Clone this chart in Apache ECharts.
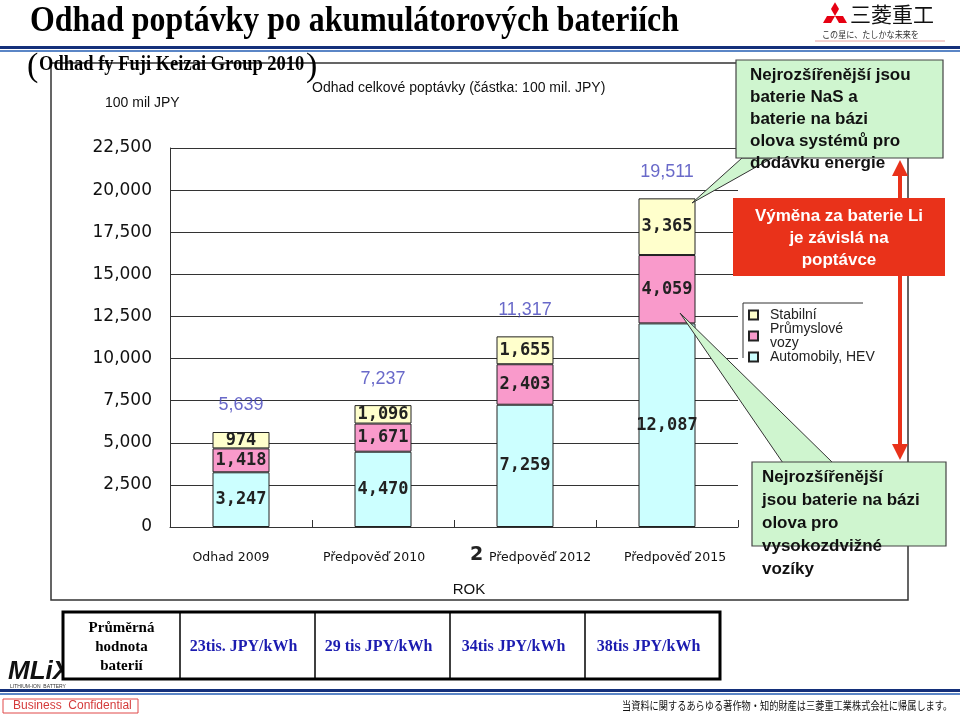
<!DOCTYPE html>
<html>
<head>
<meta charset="utf-8">
<script src="https://cdn.jsdelivr.net/npm/echarts@6/dist/echarts.min.js"></script>
<style>
html,body{margin:0;padding:0;background:#fff;}
#chart{width:960px;height:715px;}
</style>
</head>
<body>
<div id="chart"></div>
<script>
// ---- data ----
const categories = ['Odhad 2009', 'Předpověď 2010', 'Předpověď 2012', 'Předpověď 2015'];
const automobily = [3247, 4470, 7259, 12087];
const prumyslove = [1418, 1671, 2403, 4059];
const stabilni = [974, 1096, 1655, 3365];
const totals = [5639, 7237, 11317, 19511];
const seriesNames = ['Stabilní', 'Průmyslové vozy', 'Automobily, HEV'];
const yMin = 0, yMax = 22500, yStep = 2500;
const priceHeader = 'Průměrná\nhodnota\nbaterií';
const batteryPrices = ['23tis. JPY/kWh', '29 tis JPY/kWh', '34tis JPY/kWh', '38tis JPY/kWh'];

const fmt = v => Number(v).toLocaleString('en-US');
const chart = echarts.init(document.getElementById('chart'), null, {renderer: 'canvas'});

const segLabel = {
  show: true, position: 'inside', formatter: p => fmt(p.value),
  fontFamily: 'DejaVu Sans Mono', fontWeight: 'bold', fontSize: 17, color: '#222'
};
const barBase = {type: 'bar', stack: 'total', barWidth: 57, label: segLabel};

// table graphics
const tbl = {x0: 63, y0: 612, y1: 679, cols: [63, 180, 315, 450, 585, 720]};
const tableEls = [];
tableEls.push({type: 'rect', z: 50, shape: {x: tbl.x0, y: tbl.y0, width: tbl.cols[5] - tbl.x0, height: tbl.y1 - tbl.y0},
  style: {fill: '#fff', stroke: '#000', lineWidth: 3}});
for (let i = 1; i < 5; i++) {
  tableEls.push({type: 'line', z: 51, shape: {x1: tbl.cols[i], y1: tbl.y0, x2: tbl.cols[i], y2: tbl.y1},
    style: {stroke: '#000', lineWidth: 1.5}});
}
tableEls.push({type: 'text', z: 52, x: (tbl.cols[0] + tbl.cols[1]) / 2, y: 647,
  style: {text: priceHeader, align: 'center', verticalAlign: 'middle', lineHeight: 19,
    fontFamily: 'Liberation Serif', fontWeight: 'bold', fontSize: 15, fill: '#000'}});
batteryPrices.forEach((t, i) => {
  tableEls.push({type: 'text', z: 52, x: (tbl.cols[i + 1] + tbl.cols[i + 2]) / 2 - 4, y: 647,
    style: {text: t, align: 'center', verticalAlign: 'middle',
      fontFamily: 'Liberation Serif', fontWeight: 'bold', fontSize: 16, fill: '#1c1cb0'}});
});

// Mitsubishi-like mark
const cx = 835, cy = 16, s = 8, L = 13.86;
const diamonds = [
  [[cx, cy], [cx + 4, cy - 6.93], [cx, cy - L], [cx - 4, cy - 6.93]],
  [[cx, cy], [cx - s, cy], [cx - 12, cy + 6.93], [cx - 4, cy + 6.93]],
  [[cx, cy], [cx + s, cy], [cx + 12, cy + 6.93], [cx + 4, cy + 6.93]]
].map(pts => ({type: 'polygon', shape: {points: pts}, style: {fill: '#e60012'}}));

const green = '#cff5cf';
const red = '#e9321a';

const option = {
  backgroundColor: '#fff',
  animation: false,
  title: {
    text: 'Odhad celkové poptávky (částka: 100 mil. JPY)',
    left: 312, top: 81, padding: 0,
    textStyle: {fontFamily: 'Liberation Sans', fontSize: 14, fontWeight: 'normal', color: '#111'}
  },
  legend: {
    data: ['Stabilní', 'Průmyslové vozy', 'Automobily, HEV'],
    orient: 'vertical', left: 748, top: 308, padding: 0, itemGap: 0,
    itemWidth: 9, itemHeight: 9, icon: 'rect', selectedMode: false,
    formatter: n => n === 'Průmyslové vozy' ? 'Průmyslové\nvozy' : n,
    textStyle: {fontFamily: 'Liberation Sans', fontSize: 14, lineHeight: 14, color: '#222', padding: [0, 0, 0, 7]}
  },
  grid: {left: 170, top: 148, width: 568, height: 379, containLabel: false},
  xAxis: {
    type: 'category', data: categories.map((c, i) => ({
      value: c,
      textStyle: {padding: [[0, 20, 0, 0], [0, 18, 0, 0], [0, 0, 0, 30], [0, 0, 0, 16]][i]}
    })),
    axisLine: {lineStyle: {color: '#333', width: 1}},
    axisTick: {show: true, inside: true, length: 7, lineStyle: {color: '#333'}},
    axisLabel: {margin: 24, fontFamily: 'DejaVu Sans', fontSize: 12.5, color: '#111', interval: 0},
    name: 'ROK', nameLocation: 'middle', nameGap: 55,
    nameTextStyle: {fontFamily: 'Liberation Sans', fontSize: 15, color: '#111', padding: [0, 0, 0, 30]}
  },
  yAxis: {
    type: 'value', min: yMin, max: yMax, interval: yStep,
    axisLine: {show: true, lineStyle: {color: '#333', width: 1}},
    axisTick: {show: false},
    splitLine: {lineStyle: {color: '#333', width: 1}},
    axisLabel: {formatter: v => fmt(v), margin: 18, fontFamily: 'DejaVu Sans', fontSize: 17, color: '#111'}
  },
  series: [
    Object.assign({}, barBase, {name: seriesNames[2], data: automobily,
      itemStyle: {color: '#ccffff', borderColor: '#222', borderWidth: 1}}),
    Object.assign({}, barBase, {name: seriesNames[1], data: prumyslove,
      itemStyle: {color: '#f99acb', borderColor: '#222', borderWidth: 1}}),
    Object.assign({}, barBase, {name: seriesNames[0], data: stabilni,
      itemStyle: {color: '#ffffcc', borderColor: '#222', borderWidth: 1}}),
    {
      name: 'Celkem', type: 'scatter', data: totals, symbol: 'rect', symbolSize: 1, silent: true,
      itemStyle: {color: 'rgba(0,0,0,0)'}, z: 5,
      label: {show: true, position: 'top', distance: 17, formatter: p => fmt(p.value),
        fontFamily: 'Liberation Sans', fontSize: 18, color: '#4444bb'}
    }
  ],
  graphic: [].concat([
    // top banner lines
    {type: 'rect', shape: {x: 0, y: 46, width: 960, height: 3}, style: {fill: '#14307a'}},
    {type: 'rect', shape: {x: 0, y: 50, width: 960, height: 2}, style: {fill: '#5b86c6'}},
    // bottom banner lines
    {type: 'rect', shape: {x: 0, y: 689, width: 960, height: 3}, style: {fill: '#14307a'}},
    {type: 'rect', shape: {x: 0, y: 693, width: 960, height: 2}, style: {fill: '#5b86c6'}},
    // outer frame
    {type: 'rect', z: -10, shape: {x: 51, y: 63, width: 857, height: 537}, style: {fill: null, stroke: '#333', lineWidth: 1.5}},
    // heading
    {type: 'text', x: 30, y: 4, scaleX: 0.91,
      style: {text: 'Odhad poptávky po akumulátorových bateriích', fontFamily: 'Liberation Serif', fontWeight: 'bold', fontSize: 35, fill: '#000', verticalAlign: 'top'}},
    {type: 'text', x: 27, y: 67, style: {text: '(', fontFamily: 'Liberation Serif', fontSize: 34, fill: '#000', verticalAlign: 'middle'}},
    {type: 'text', x: 39, y: 65, scaleX: 0.925,
      style: {text: 'Odhad fy Fuji Keizai Group 2010', fontFamily: 'Liberation Serif', fontWeight: 'bold', fontSize: 20, fill: '#000', verticalAlign: 'middle'}},
    {type: 'text', x: 306, y: 67, style: {text: ')', fontFamily: 'Liberation Serif', fontSize: 34, fill: '#000', verticalAlign: 'middle'}},
    // y unit
    {type: 'text', x: 105, y: 103, style: {text: '100 mil JPY', fontFamily: 'Liberation Sans', fontSize: 14, fill: '#111', verticalAlign: 'middle'}},
    // residual label fragment
    {type: 'text', x: 470, y: 555, style: {text: '2', fontFamily: 'DejaVu Sans', fontWeight: 'bold', fontSize: 19, fill: '#222', verticalAlign: 'middle'}},
    // legend frame lines
    {type: 'line', shape: {x1: 743, y1: 303, x2: 863, y2: 303}, style: {stroke: '#333', lineWidth: 1}},
    {type: 'line', shape: {x1: 743, y1: 303, x2: 743, y2: 358}, style: {stroke: '#333', lineWidth: 1}},
    // red arrow
    {type: 'rect', z: 60, shape: {x: 898, y: 172, width: 4, height: 276}, style: {fill: red}},
    {type: 'polygon', z: 60, shape: {points: [[900, 160], [892, 176], [908, 176]]}, style: {fill: red}},
    {type: 'polygon', z: 60, shape: {points: [[900, 460], [892, 444], [908, 444]]}, style: {fill: red}},
    // top green callout
    {type: 'polygon', z: 70, shape: {points: [[692, 203], [742, 158], [772, 158]]}, style: {fill: green, stroke: '#333', lineWidth: 1}},
    {type: 'rect', z: 71, shape: {x: 736, y: 60, width: 207, height: 98}, style: {fill: green, stroke: '#444', lineWidth: 1.2}},
    {type: 'text', z: 72, x: 750, y: 64,
      style: {text: 'Nejrozšířenější jsou\nbaterie NaS a\nbaterie na bázi\nolova systémů pro\ndodávku energie', lineHeight: 22,
        fontFamily: 'Liberation Sans', fontWeight: 'bold', fontSize: 17, fill: '#111', verticalAlign: 'top'}},
    // red callout
    {type: 'rect', z: 73, shape: {x: 733, y: 198, width: 212, height: 78}, style: {fill: red}},
    {type: 'text', z: 74, x: 839, y: 205,
      style: {text: 'Výměna za baterie Li\nje závislá na\npoptávce', lineHeight: 22, align: 'center',
        fontFamily: 'Liberation Sans', fontWeight: 'bold', fontSize: 17, fill: '#fff', verticalAlign: 'top'}},
    // bottom green callout
    {type: 'polygon', z: 70, shape: {points: [[680, 313], [783, 463], [833, 463]]}, style: {fill: green, stroke: '#333', lineWidth: 1}},
    {type: 'rect', z: 71, shape: {x: 752, y: 462, width: 194, height: 84}, style: {fill: green, stroke: '#444', lineWidth: 1.2}},
    {type: 'text', z: 72, x: 762, y: 466,
      style: {text: 'Nejrozšířenější\njsou baterie na bázi\nolova pro\nvysokozdvižné\nvozíky', lineHeight: 23,
        fontFamily: 'Liberation Sans', fontWeight: 'bold', fontSize: 17, fill: '#111', verticalAlign: 'top'}},
    // logo top-right
    {type: 'text', x: 850, y: 14, style: {text: '三菱重工', fontFamily: 'Noto Sans CJK JP', fontSize: 21, fill: '#111', verticalAlign: 'middle'}},
    {type: 'text', x: 822, y: 35, scaleX: 0.9, style: {text: 'この星に、たしかな未来を', fontFamily: 'Noto Sans CJK JP', fontSize: 9, fill: '#333', verticalAlign: 'middle'}},
    {type: 'line', shape: {x1: 815, y1: 41, x2: 945, y2: 41}, style: {stroke: '#e8a0a0', lineWidth: 1}},
    // MLiX logo
    {type: 'text', x: 8, y: 672, style: {text: 'MLiX', fontFamily: 'Liberation Sans', fontWeight: 'bold', fontStyle: 'italic', fontSize: 26, fill: '#111', verticalAlign: 'middle'}},
    {type: 'text', x: 10, y: 687, style: {text: 'LITHIUM-ION  BATTERY', fontFamily: 'Liberation Sans', fontSize: 5, fill: '#333', verticalAlign: 'middle'}},
    // footer
    {type: 'rect', shape: {x: 3, y: 699, width: 135, height: 14}, style: {fill: '#fff', stroke: '#e04848', lineWidth: 1}},
    {type: 'text', x: 13, y: 706, style: {text: 'Business  Confidential', fontFamily: 'Liberation Sans', fontSize: 12, fill: '#d43a3a', verticalAlign: 'middle'}},
    {type: 'text', x: 622, y: 706, scaleX: 0.8, style: {text: '当資料に関するあらゆる著作物・知的財産は三菱重工業株式会社に帰属します。', fontFamily: 'Noto Sans CJK JP', fontSize: 11.5, fill: '#111', verticalAlign: 'middle'}}
  ], diamonds, tableEls)
};
chart.setOption(option);
</script>
</body>
</html>
